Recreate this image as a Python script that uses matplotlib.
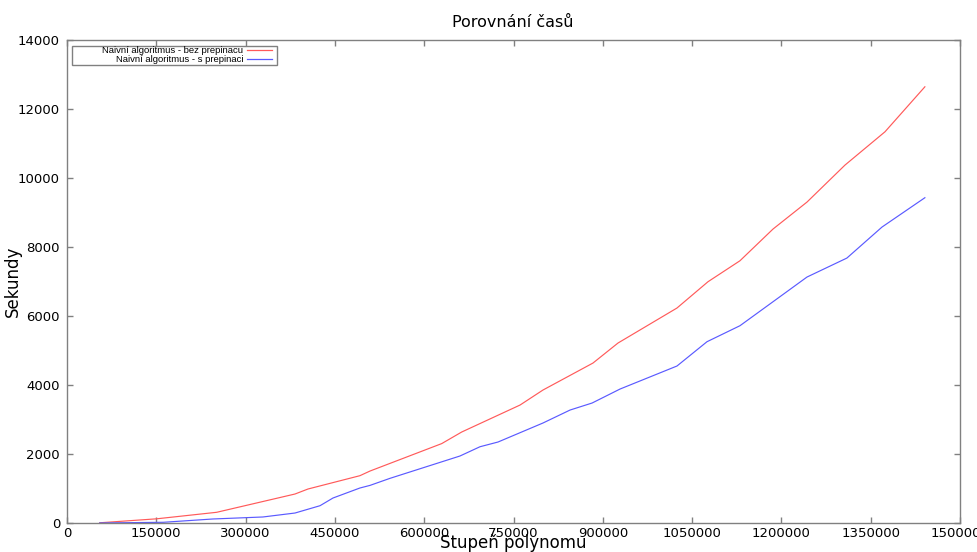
import matplotlib
matplotlib.use("Agg")
import matplotlib.pyplot as plt
from matplotlib.lines import Line2D
from matplotlib.patches import Rectangle

# data
x_bez = [55000, 150600, 251400, 383000, 404800, 492000, 509000, 629400, 663000,
         761000, 799500, 883500, 925500, 1024600, 1076700, 1130400, 1185900,
         1243000, 1306800, 1374000, 1441000]
y_bez = [15, 130, 319, 849, 994, 1380, 1515, 2310, 2646,
         3428, 3863, 4645, 5225, 6240, 7002, 7610, 8529,
         9311, 10383, 11348, 12652]

x_s = [55000, 161700, 245000, 329000, 383000, 425000, 446800, 492000, 509000,
       542500, 660000, 693700, 724000, 799500, 845000, 882000, 929000,
       1024600, 1075000, 1130400, 1185900, 1243000, 1310000, 1369000, 1441000]
y_s = [10, 29, 125, 183, 298, 510, 733, 1023, 1099,
       1303, 1950, 2219, 2356, 2907, 3283, 3486, 3892,
       4559, 5263, 5727, 6422, 7138, 7688, 8587, 9437]

labels = ["Naivní algoritmus - bez prepinacu", "Naivní algoritmus - s prepinaci"]
colors = ["#ff5a5a", "#5a5aff"]

W, H = 978, 552
fig = plt.figure(figsize=(W / 100, H / 100), dpi=100)
ax = fig.add_axes([67 / W, 1 - 523.3 / H, (960 - 67) / W, (523.3 - 40.3) / H])

ax.plot(x_bez, y_bez, color=colors[0], lw=0.85)
ax.plot(x_s, y_s, color=colors[1], lw=0.85)

ax.set_xlim(0, 1500000)
ax.set_ylim(0, 14000)
ax.set_xticks(range(0, 1500001, 150000))
ax.set_yticks(range(0, 14001, 2000))
ax.ticklabel_format(style="plain", useOffset=False)

for sp in ax.spines.values():
    sp.set_color("#808080")
    sp.set_linewidth(1.0)
ax.tick_params(direction="in", top=True, right=True, length=4, width=1,
               color="#808080", labelsize=9.5, labelcolor="black")
ax.tick_params(axis="x", pad=3)
ax.tick_params(axis="y", pad=5)

fig.text(513 / W, 1 - 27.3 / H, "Porovnání časů", ha="center", va="baseline",
         fontsize=11.5)
fig.text(513 / W, 1 - 548.3 / H, "Stupeň polynomu", ha="center", va="baseline",
         fontsize=12)
fig.text(13 / W, 1 - 281 / H, "Sekundy", ha="center", va="center",
         rotation=90, fontsize=12)

# gnuplot-style legend box
box = Rectangle((72.3 / W, 1 - 65.3 / H), (277.3 - 72.3) / W, (65.3 - 46) / H,
                transform=fig.transFigure, fill=False, edgecolor="#808080", lw=1.0)
fig.add_artist(box)
for i, (lab, c) in enumerate(zip(labels, colors)):
    yy = 1 - (50.3 + 8.7 * i) / H
    fig.text(243.3 / W, yy, lab, ha="right", va="center", fontsize=6.8,
             family="Liberation Sans")
    fig.add_artist(Line2D([246.7 / W, 272.3 / W], [yy, yy], color=c, lw=0.9,
                          transform=fig.transFigure))

fig.savefig("out.png", dpi=100)
